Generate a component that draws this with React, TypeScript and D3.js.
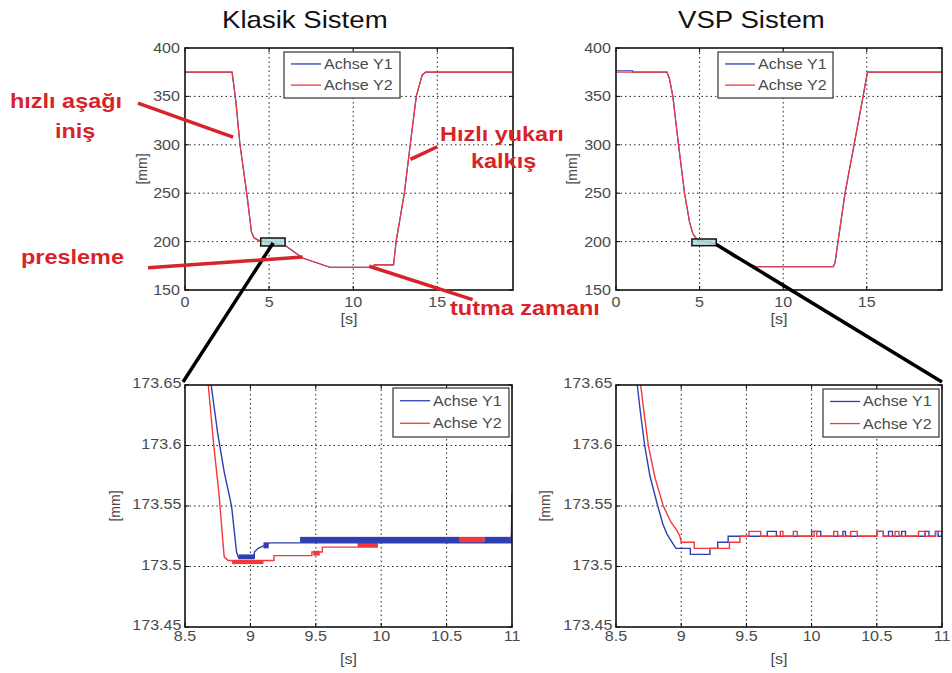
import React from 'react'
import * as d3 from 'd3'

// --- data ---
const topXTicks = [0, 5, 10, 15]
const topYTicks = [150, 200, 250, 300, 350, 400]
const zoomXTicks = [8.5, 9, 9.5, 10, 10.5, 11]
const zoomYTicks = [173.45, 173.5, 173.55, 173.6, 173.65]

// Klasik Sistem, full stroke
const klasikY1 = [[0, 375], [2.8, 375], [2.95, 355], [3.05, 340], [3.27, 300], [3.67, 250], [3.95, 210], [4.1, 204], [4.4, 201], [5.0, 199.5], [5.5, 197.5], [6, 195.5], [7, 183], [8.6, 173.5], [11.2, 173.5], [11.25, 176], [12.4, 176], [12.55, 200], [13.04, 250], [13.39, 300], [13.75, 350], [14.1, 372], [14.3, 375], [19.5, 375]]
const klasikY2 = [[0, 375], [2.8, 375], [2.95, 355], [3.05, 340], [3.27, 300], [3.67, 250], [3.95, 210], [4.1, 204], [4.4, 201], [5.0, 199.5], [5.5, 197.5], [6, 195.5], [7, 183], [8.6, 173.5], [11.2, 173.5], [11.25, 176], [12.4, 176], [12.55, 200], [13.04, 250], [13.39, 300], [13.75, 350], [14.1, 372], [14.3, 375], [19.5, 375]]

// VSP Sistem, full stroke
const vspY1 = [[0, 376.5], [1, 376.5], [1, 375], [3.05, 375], [3.2, 368], [3.4, 350], [3.74, 300], [4.1, 250], [4.4, 220], [4.6, 208], [4.85, 202], [5.3, 200], [5.94, 198], [7.04, 184.4], [7.84, 177.6], [8.4, 174], [13.0, 174], [13.1, 178], [13.28, 200], [13.7, 250], [14.24, 300], [14.78, 350], [15.04, 375], [19.5, 375]]
const vspY2 = [[0, 375], [3.05, 375], [3.2, 368], [3.4, 350], [3.74, 300], [4.1, 250], [4.4, 220], [4.6, 208], [4.85, 202], [5.3, 200], [5.94, 198], [7.04, 184.4], [7.84, 177.6], [8.4, 174], [13.0, 174], [13.1, 178], [13.28, 200], [13.7, 250], [14.24, 300], [14.78, 350], [15.04, 375], [19.5, 375]]

// Klasik zoom
const klasikZoomY1 = [[8.70, 173.65], [8.75, 173.61], [8.8, 173.578], [8.856, 173.55], [8.894, 173.512], [8.91, 173.507], [9.03, 173.507], [9.03, 173.512], [9.06, 173.515], [9.1, 173.517], [9.15, 173.5195], [10.995, 173.5195], [11, 173.56]]
const klasikZoomY2 = [[8.678, 173.65], [8.72, 173.6], [8.76, 173.56], [8.79, 173.52], [8.8, 173.508], [8.83, 173.505], [9.18, 173.505], [9.18, 173.509], [9.47, 173.509], [9.47, 173.512], [9.55, 173.512], [9.55, 173.516], [9.97, 173.516], [9.97, 173.52], [10.99, 173.52], [11, 173.53]]
// dense chattering: [from, to, low, high]
const klasikZoomY1Bands = [[8.91, 9.03, 173.506, 173.51], [9.1, 9.14, 173.515, 173.52], [9.38, 10.6, 173.5195, 173.5245], [10.79, 10.99, 173.5195, 173.5245]]
const klasikZoomY2Bands = [[8.86, 9.1, 173.502, 173.505], [9.48, 9.53, 173.509, 173.513], [9.82, 9.97, 173.516, 173.5195], [10.6, 10.79, 173.5195, 173.5245]]

// VSP zoom
const vspZoomY1 = [[8.663, 173.65], [8.69, 173.625], [8.72, 173.6], [8.76, 173.575], [8.82, 173.55], [8.86, 173.535], [8.89, 173.527], [8.93, 173.52], [8.96, 173.515], [9.07, 173.515], [9.07, 173.51], [9.22, 173.51], [9.22, 173.515], [9.28, 173.515], [9.28, 173.52], [9.36, 173.52], [9.36, 173.525]]
const vspZoomY2 = [[8.689, 173.65], [8.72, 173.623], [8.748, 173.6], [8.8, 173.573], [8.863, 173.55], [8.92, 173.537], [8.965, 173.53], [8.99, 173.525], [9.0, 173.52], [9.1, 173.52], [9.1, 173.515], [9.37, 173.515], [9.37, 173.52], [9.45, 173.52], [9.45, 173.525]]
const vspSettle = 173.525
const vspBlipTop = 173.529
const vspY1Blips = [[9.66, 9.73], [10.0, 10.07], [10.24, 10.26], [10.5, 10.55], [10.59, 10.62], [10.69, 10.72], [10.87, 10.9], [10.95, 10.97]]
const vspY2Blips = [[9.52, 9.61], [9.76, 9.78], [9.86, 9.89], [10.02, 10.04], [10.17, 10.2], [10.3, 10.35], [10.5, 10.55], [10.64, 10.67], [10.82, 10.87], [10.95, 11]]

const withBlips = (head, blips, base, top, end) => {
  const out = head.slice()
  blips.forEach(([a, b]) => { out.push([a, base], [a, top], [b, top], [b, base]) })
  out.push([end, base])
  return out
}

const FONT = "'Liberation Sans', Arial, Helvetica, sans-serif"
const SX = 1.15
const BLUE = '#2e3fb2'
const RED = '#f2383a'
const ANN = '#d8232b'
const TICK = '#4a4a4a'

const layout = {
  tl: { left: 185, top: 48, w: 328, h: 242, xd: [0, 19.5], yd: [150, 400] },
  tr: { left: 616, top: 48, w: 326, h: 242, xd: [0, 19.5], yd: [150, 400] },
  bl: { left: 185, top: 385, w: 327, h: 242, xd: [8.5, 11], yd: [173.45, 173.65] },
  br: { left: 616, top: 385, w: 326, h: 242, xd: [8.5, 11], yd: [173.45, 173.65] },
}

const scalesOf = (p) => ({
  x: d3.scaleLinear().domain(p.xd).range([p.left, p.left + p.w]),
  y: d3.scaleLinear().domain(p.yd).range([p.top + p.h, p.top]),
})

const Txt = ({ x, y, size = 14, anchor = 'start', fill = TICK, weight = 'normal', children }) => (
  <g transform={`translate(${x},${y}) scale(${SX},1)`}>
    <text textAnchor={anchor} fontSize={size} fill={fill} fontWeight={weight} fontFamily={FONT}>{children}</text>
  </g>
)

const Panel = ({ id, p, xTicks, yTicks, series, legend, lw, xLabY, sY, mmX, yGap, yDy }) => {
  const { x, y } = scalesOf(p)
  const line = d3.line().x(d => x(d[0])).y(d => y(d[1]))
  const bottom = p.top + p.h
  const right = p.left + p.w
  const legendItems = series.slice().sort((a, b) => d3.ascending(a.name, b.name))
  return (
    <g>
      <defs>
        <clipPath id={id}><rect x={p.left} y={p.top} width={p.w} height={p.h} /></clipPath>
      </defs>
      <rect x={p.left} y={p.top} width={p.w} height={p.h} fill="#fff" />
      {xTicks.slice(1).filter(t => t < p.xd[1]).map(t => (
        <line key={'gx' + t} x1={x(t)} x2={x(t)} y1={p.top} y2={bottom} stroke="#222" strokeWidth={1} strokeDasharray="1.5,3" />
      ))}
      {yTicks.slice(1, -1).map(t => (
        <line key={'gy' + t} x1={p.left} x2={right} y1={y(t)} y2={y(t)} stroke="#222" strokeWidth={1} strokeDasharray="1.5,3" />
      ))}
      <g clipPath={`url(#${id})`}>
        {series.map((s, i) => (
          <g key={i}>
            {(s.bands || []).map((b, j) => (
              <rect key={j} x={x(b[0])} width={x(b[1]) - x(b[0])} y={y(b[3])} height={y(b[2]) - y(b[3])} fill={s.color} />
            ))}
            <path d={line(s.data)} fill="none" stroke={s.color} strokeWidth={lw} />
          </g>
        ))}
      </g>
      {xTicks.map(t => (
        <g key={'tx' + t}>
          <line x1={x(t)} x2={x(t)} y1={bottom} y2={bottom - 4} stroke="#000" />
          <line x1={x(t)} x2={x(t)} y1={p.top} y2={p.top + 4} stroke="#000" />
          <Txt x={x(t)} y={xLabY} anchor="middle">{String(t)}</Txt>
        </g>
      ))}
      {yTicks.map(t => (
        <g key={'ty' + t}>
          <line x1={p.left} x2={p.left + 4} y1={y(t)} y2={y(t)} stroke="#000" />
          <line x1={right} x2={right - 4} y1={y(t)} y2={y(t)} stroke="#000" />
          <Txt x={p.left - yGap} y={y(t) + yDy} anchor="end">{String(t)}</Txt>
        </g>
      ))}
      <rect x={p.left} y={p.top} width={p.w} height={p.h} fill="none" stroke="#111" strokeWidth={1.6} />
      <Txt x={(p.left + right) / 2} y={sY} anchor="middle">[s]</Txt>
      <text transform={`translate(${mmX},${p.top + p.h / 2}) rotate(-90)`} textAnchor="middle" dominantBaseline="central"
        fontSize={14} fill={TICK} fontFamily={FONT}>[mm]</text>
      <g>
        <rect x={legend.x} y={legend.y} width={legend.w} height={legend.h} fill="#fff" stroke="#333" strokeWidth={1.2} />
        {legendItems.map((s, i) => {
          const ry = legend.y + legend.h * (i === 0 ? 0.26 : 0.72)
          return (
            <g key={i}>
              <line x1={legend.x + 7} x2={legend.x + 37} y1={ry} y2={ry} stroke={s.color} strokeWidth={1.3} />
              <Txt x={legend.x + 40} y={ry + 5}>{s.name}</Txt>
            </g>
          )
        })}
      </g>
    </g>
  )
}

const annotations = [
  { text: 'hızlı aşağı', x: 10, y: 108 },
  { text: 'iniş', x: 55, y: 138 },
  { text: 'presleme', x: 21, y: 264 },
  { text: 'Hızlı yukarı', x: 440, y: 141 },
  { text: 'kalkış', x: 471, y: 168 },
  { text: 'tutma zamanı', x: 450, y: 315 },
]
// pointer lines in top-left data coordinates: [t0, v0, t1, v1]
const pointers = [
  [-2.8, 343, 2.86, 308],
  [-2.2, 173, 7.0, 184],
  [13.4, 285, 15.0, 298],
  [10.95, 174.5, 17.1, 140],
]
// zoom boxes [t0, t1, v0, v1]
const klasikBox = [4.5, 5.95, 195.5, 203.7]
const vspBox = [4.54, 6.0, 195.8, 202.7]

export default function App() {
  const tl = scalesOf(layout.tl)
  const tr = scalesOf(layout.tr)
  const bl = scalesOf(layout.bl)
  const br = scalesOf(layout.br)
  const boxRect = (s, b) => ({ x: s.x(b[0]), y: s.y(b[3]), width: s.x(b[1]) - s.x(b[0]), height: s.y(b[2]) - s.y(b[3]) })
  const kb = boxRect(tl, klasikBox)
  const vb = boxRect(tr, vspBox)

  return (
    <svg width={952} height={673} style={{ position: 'absolute', left: 0, top: 0, background: '#fff' }}>
      <rect width={952} height={673} fill="#fff" />
      <Txt x={222} y={28} size={24} fill="#111">Klasik Sistem</Txt>
      <Txt x={678} y={28} size={24} fill="#111">VSP Sistem</Txt>

      <Panel id="c-tl" p={layout.tl} xTicks={topXTicks} yTicks={topYTicks} lw={1.2} xLabY={307} sY={324} mmX={142} yGap={5} yDy={5}
        series={[{ name: 'Achse Y1', color: BLUE, data: klasikY1 }, { name: 'Achse Y2', color: RED, data: klasikY2 }]}
        legend={{ x: 284, y: 52, w: 116, h: 46 }} />
      <Panel id="c-tr" p={layout.tr} xTicks={topXTicks} yTicks={topYTicks} lw={1.2} xLabY={307} sY={324} mmX={572} yGap={5} yDy={5}
        series={[{ name: 'Achse Y1', color: BLUE, data: vspY1 }, { name: 'Achse Y2', color: RED, data: vspY2 }]}
        legend={{ x: 718, y: 52, w: 115, h: 46 }} />
      <Panel id="c-bl" p={layout.bl} xTicks={zoomXTicks} yTicks={zoomYTicks} lw={1.4} xLabY={641} sY={664} mmX={115} yGap={3.5} yDy={3}
        series={[{ name: 'Achse Y2', color: RED, data: klasikZoomY2, bands: klasikZoomY2Bands }, { name: 'Achse Y1', color: BLUE, data: klasikZoomY1, bands: klasikZoomY1Bands }]}
        legend={{ x: 393, y: 388, w: 116, h: 49 }} />
      <Panel id="c-br" p={layout.br} xTicks={zoomXTicks} yTicks={zoomYTicks} lw={1.4} xLabY={641} sY={664} mmX={545} yGap={3.5} yDy={3}
        series={[{ name: 'Achse Y1', color: BLUE, data: withBlips(vspZoomY1, vspY1Blips, vspSettle, vspBlipTop, 11) }, { name: 'Achse Y2', color: RED, data: withBlips(vspZoomY2, vspY2Blips, vspSettle, vspBlipTop, 11) }]}
        legend={{ x: 823, y: 389, w: 116, h: 48 }} />

      {/* zoom boxes and connectors */}
      <rect {...kb} fill="#a9dada" fillOpacity={0.85} stroke="#111" strokeWidth={1.5} />
      <rect {...vb} fill="#a9dada" fillOpacity={0.85} stroke="#111" strokeWidth={1.5} />
      <line x1={tl.x(5.24)} y1={tl.y(198.6)} x2={bl.x(8.5) - 2} y2={bl.y(173.65) - 3} stroke="#000" strokeWidth={3.5} />
      <line x1={tr.x(6.0)} y1={tr.y(197)} x2={br.x(11)} y2={br.y(173.65) - 3} stroke="#000" strokeWidth={3.5} />

      {/* red annotations */}
      {pointers.map((q, i) => (
        <line key={i} x1={tl.x(q[0])} y1={tl.y(q[1])} x2={tl.x(q[2])} y2={tl.y(q[3])} stroke={ANN} strokeWidth={3.5} />
      ))}
      {annotations.map(a => (
        <Txt key={a.text} x={a.x} y={a.y} size={20.4} fill={ANN} weight="bold">{a.text}</Txt>
      ))}
    </svg>
  )
}
